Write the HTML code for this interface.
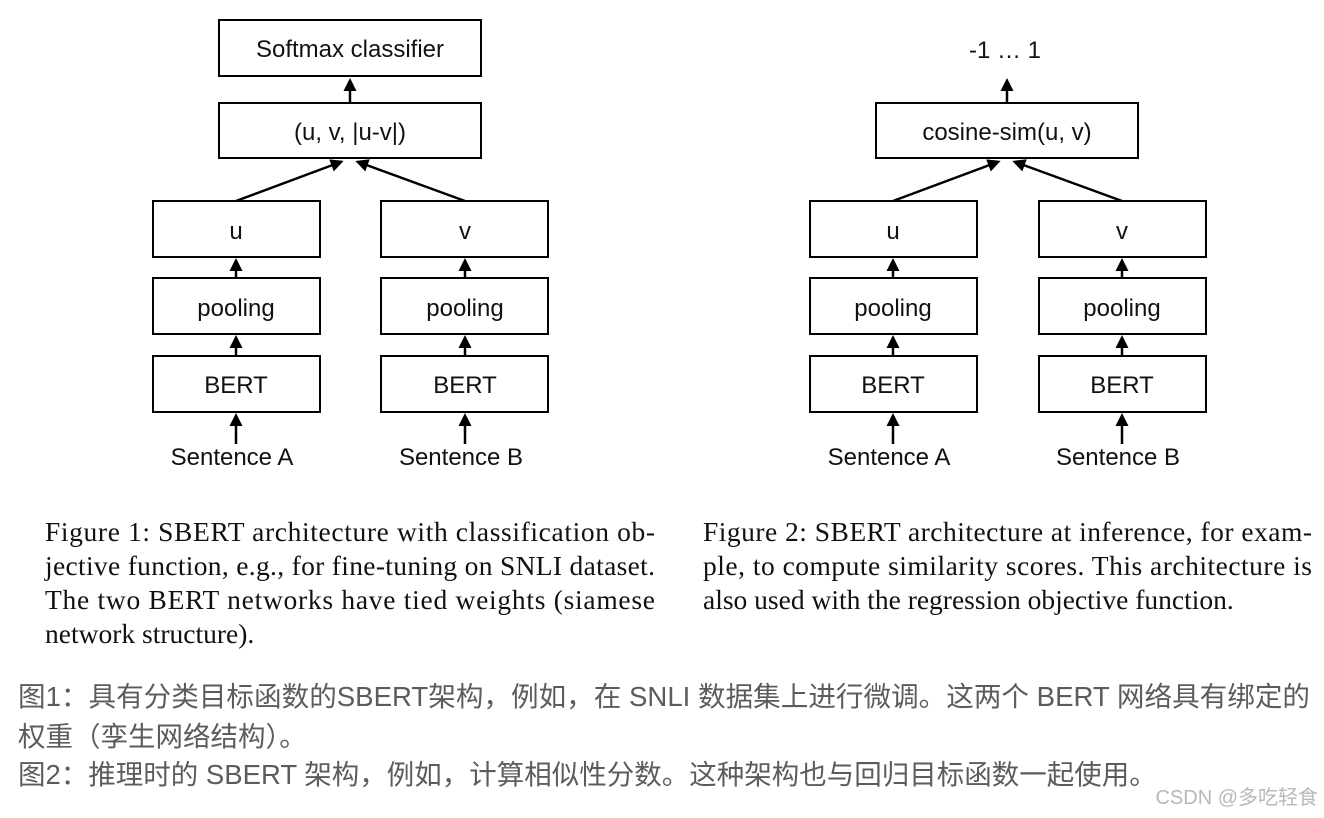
<!DOCTYPE html>
<html><head><meta charset="utf-8"><style>
html,body{margin:0;padding:0;background:#fff;}
svg{display:block;}
</style></head><body>
<svg width="1324" height="818" viewBox="0 0 1324 818" xmlns="http://www.w3.org/2000/svg">
<defs>
<marker id="ah" markerWidth="14" markerHeight="14" refX="7" refY="7" orient="auto" markerUnits="userSpaceOnUse">
<path d="M0,0.5 L13,7 L0,13.5 z" fill="#000"/>
</marker>
</defs>
<g fill="#fff" stroke="#000" stroke-width="2">
<rect x="219" y="20" width="262" height="56"/>
<rect x="219" y="103" width="262" height="55"/>
<rect x="153" y="201" width="167" height="56"/>
<rect x="381" y="201" width="167" height="56"/>
<rect x="153" y="278" width="167" height="56"/>
<rect x="381" y="278" width="167" height="56"/>
<rect x="153" y="356" width="167" height="56"/>
<rect x="381" y="356" width="167" height="56"/>

<rect x="876" y="103" width="262" height="55"/>
<rect x="810" y="201" width="167" height="56"/>
<rect x="1039" y="201" width="167" height="56"/>
<rect x="810" y="278" width="167" height="56"/>
<rect x="1039" y="278" width="167" height="56"/>
<rect x="810" y="356" width="167" height="56"/>
<rect x="1039" y="356" width="167" height="56"/>
</g>
<g stroke="#000" stroke-width="2.5" marker-end="url(#ah)" fill="none">
<line x1="350" y1="103" x2="350" y2="84"/>
<line x1="236" y1="201" x2="338" y2="163"/>
<line x1="465" y1="201" x2="361" y2="163"/>
<line x1="236" y1="278" x2="236" y2="264"/>
<line x1="465" y1="278" x2="465" y2="264"/>
<line x1="236" y1="356" x2="236" y2="341"/>
<line x1="465" y1="356" x2="465" y2="341"/>
<line x1="236" y1="444" x2="236" y2="419"/>
<line x1="465" y1="444" x2="465" y2="419"/>

<line x1="1007" y1="103" x2="1007" y2="84"/>
<line x1="893" y1="201" x2="995" y2="163"/>
<line x1="1122" y1="201" x2="1018" y2="163"/>
<line x1="893" y1="278" x2="893" y2="264"/>
<line x1="1122" y1="278" x2="1122" y2="264"/>
<line x1="893" y1="356" x2="893" y2="341"/>
<line x1="1122" y1="356" x2="1122" y2="341"/>
<line x1="893" y1="444" x2="893" y2="419"/>
<line x1="1122" y1="444" x2="1122" y2="419"/>
</g>
<g font-family="Liberation Sans, sans-serif" font-size="24" fill="#111" text-anchor="middle">
<text x="350" y="57">Softmax classifier</text>
<text x="350" y="140">(u, v, |u-v|)</text>
<text x="236" y="239">u</text>
<text x="465" y="239">v</text>
<text x="236" y="316">pooling</text>
<text x="465" y="316">pooling</text>
<text x="236" y="393">BERT</text>
<text x="465" y="393">BERT</text>
<text x="232" y="465">Sentence A</text>
<text x="461" y="465">Sentence B</text>

<text x="1005" y="58">-1 … 1</text>
<text x="1007" y="140">cosine-sim(u, v)</text>
<text x="893" y="239">u</text>
<text x="1122" y="239">v</text>
<text x="893" y="316">pooling</text>
<text x="1122" y="316">pooling</text>
<text x="893" y="393">BERT</text>
<text x="1122" y="393">BERT</text>
<text x="889" y="465">Sentence A</text>
<text x="1118" y="465">Sentence B</text>
</g>
<g font-family="Liberation Serif, serif" font-size="27.5" fill="#111">
<text x="45" y="541" textLength="610" lengthAdjust="spacing">Figure 1:  SBERT architecture with classification ob-</text>
<text x="45" y="575" textLength="610" lengthAdjust="spacing">jective function, e.g., for fine-tuning on SNLI dataset.</text>
<text x="45" y="609" textLength="610" lengthAdjust="spacing">The two BERT networks have tied weights (siamese</text>
<text x="45" y="643">network structure).</text>
<text x="703" y="541" textLength="609" lengthAdjust="spacing">Figure 2:  SBERT architecture at inference, for exam-</text>
<text x="703" y="575" textLength="609" lengthAdjust="spacing">ple, to compute similarity scores.  This architecture is</text>
<text x="703" y="609">also used with the regression objective function.</text>
</g>
<g font-family="Liberation Sans, Noto Sans CJK SC, sans-serif" font-size="27.5" fill="#5c5c5c">
<text x="18" y="706" textLength="1292" lengthAdjust="spacingAndGlyphs">图1：具有分类目标函数的SBERT架构，例如，在 SNLI 数据集上进行微调。这两个 BERT 网络具有绑定的</text>
<text x="18" y="746">权重（孪生网络结构）。</text>
<text x="18" y="784">图2：推理时的 SBERT 架构，例如，计算相似性分数。这种架构也与回归目标函数一起使用。</text>
</g>
<text x="1318" y="804" text-anchor="end" font-family="Liberation Sans, Noto Sans CJK SC, sans-serif" font-size="20" fill="#b8b8b8">CSDN @多吃轻食</text>
</svg>
</body></html>
